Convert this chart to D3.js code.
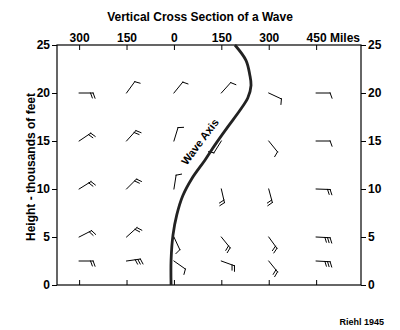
<!DOCTYPE html>
<html><head><meta charset="utf-8">
<script src="https://cdn.jsdelivr.net/npm/d3@7"></script>
<style>
body{margin:0;background:#fff;}
text{font-family:"Liberation Sans",Arial,sans-serif;font-weight:bold;fill:#000;}
</style></head>
<body><svg id="c" width="400" height="330"></svg>
<script>
// Data
const stations = [-300, -150, 0, 150, 300, 450];           // miles (west negative)
const xTickLabels = ["300", "150", "0", "150", "300", "450 Miles"];
const heights = [2.5, 5, 10, 15, 20];                      // thousands of feet
const yTicks = [0, 5, 10, 15, 20, 25];
// wind barbs: direction (compass deg toward staff) per station column, row order = heights
const barbDir = [
  [90, 63, 58, 56, 90],
  [82, 48, 45, 42, 36],
  [125, 155, 9, 17, 39],
  [110, 141, 167, 212, 42],
  [141, 144, 165, 141, 115],
  [93, 93, 92, 90, 90]
];
const barbFeathers = [
  [2, 2, 2, 2, 2],
  [3, 2, 2, 2, 1],
  [1, 1, 1, 1, 1],
  [2, 2, 2, 1, 1],
  [2, 2, 2, 1, 1],
  [3, 3, 2, 1, 1]
];
// wave axis (miles, thousands of feet)
const axisMiles = [-9, -9, -3, 9, 28, 57, 98, 130, 171, 209, 234, 244, 240, 228, 193];
const axisHeight = [0, 2.6, 5.2, 7.3, 9.3, 11.1, 13.0, 14.6, 16.5, 18.2, 19.5, 20.8, 21.9, 23.4, 25];

const svg = d3.select("#c");
const L = 57, R = 361, T = 45, B = 285;
const x = d3.scaleLinear().domain([-370, 592]).range([L, R]);
const y = d3.scaleLinear().domain([0, 25]).range([B, T]);

function styleAxis(g){
  g.select(".domain").remove();
  g.selectAll("line").attr("stroke","#000").attr("stroke-width",1);
  g.selectAll("text").style("font-size","12px").style("font-weight","bold");
}
// frame
svg.append("rect").attr("x",L).attr("y",T).attr("width",R-L).attr("height",B-T)
  .attr("fill","none").attr("stroke","#000").attr("stroke-width",1.2);

// top axis
const gTop = svg.append("g").attr("transform",`translate(0,${T})`)
  .call(d3.axisTop(x).tickValues(stations).tickSizeInner(-5).tickSizeOuter(0).tickPadding(3)
    .tickFormat((d,i)=>xTickLabels[i]));
styleAxis(gTop);
gTop.selectAll("text").attr("y",-3);
// last label: anchor number on tick
gTop.selectAll(".tick").filter((d,i)=>i===stations.length-1).select("text").each(function(){
  const t = d3.select(this);
  const num = xTickLabels[xTickLabels.length-1].split(" ")[0];
  const tmp = svg.append("text").style("font-size","12px").text(num);
  const w = tmp.node().getComputedTextLength(); tmp.remove();
  t.attr("text-anchor","start").attr("x",-w/2);
});
// bottom axis
const gBot = svg.append("g").attr("transform",`translate(0,${B})`)
  .call(d3.axisBottom(x).tickValues(stations).tickSizeInner(-5).tickSizeOuter(0).tickFormat(""));
styleAxis(gBot);
// left/right axes
const gL = svg.append("g").attr("transform",`translate(${L},0)`)
  .call(d3.axisLeft(y).tickValues(yTicks).tickSize(5).tickPadding(2));
styleAxis(gL);
const gR = svg.append("g").attr("transform",`translate(${R},0)`)
  .call(d3.axisRight(y).tickValues(yTicks).tickSize(5).tickPadding(2));
styleAxis(gR);

// title & labels
svg.append("text").attr("x",200).attr("y",21).attr("text-anchor","middle")
  .style("font-size","12px").text("Vertical Cross Section of a Wave");
svg.append("text").attr("transform","translate(35,167) rotate(-90)").attr("text-anchor","middle")
  .style("font-size","12px").text("Height - thousands of feet");
svg.append("text").attr("x",384).attr("y",325).attr("text-anchor","end")
  .style("font-size","9px").text("Riehl 1945");

// wind barbs
const staffLen = 14, featherLen = 5.5, featherGap = 2.6, featherAng = 70;
const rad = Math.PI/180;
stations.forEach((s, ci) => {
  heights.forEach((h, ri) => {
    const d = barbDir[ci][ri], n = barbFeathers[ci][ri];
    const x0 = x(s), y0 = y(h);
    const ux = Math.sin(d*rad), uy = -Math.cos(d*rad);
    const x1 = x0 + staffLen*ux, y1 = y0 + staffLen*uy;
    const p = d3.path();
    p.moveTo(x0, y0); p.lineTo(x1, y1);
    const fx = Math.sin((d+featherAng)*rad), fy = -Math.cos((d+featherAng)*rad);
    for (let k = 0; k < n; k++) {
      const bx = x1 - k*featherGap*ux, by = y1 - k*featherGap*uy;
      const len = featherLen - k*0.3;
      p.moveTo(bx, by); p.lineTo(bx + len*fx, by + len*fy);
    }
    svg.append("path").attr("d", p.toString()).attr("fill","none")
      .attr("stroke","#000").attr("stroke-width",1).attr("stroke-linecap","square");
  });
});

// wave axis
const axisPts = axisMiles.map((m,i)=>[x(m), y(axisHeight[i])]);
svg.append("path").attr("d", d3.line().curve(d3.curveCatmullRom.alpha(0.5))(axisPts))
  .attr("fill","none").attr("stroke","#222").attr("stroke-width",2.8);
svg.append("text").attr("transform","translate(203,144) rotate(-53)").attr("text-anchor","middle")
  .style("font-size","11px").text("Wave Axis");
</script></body></html>
